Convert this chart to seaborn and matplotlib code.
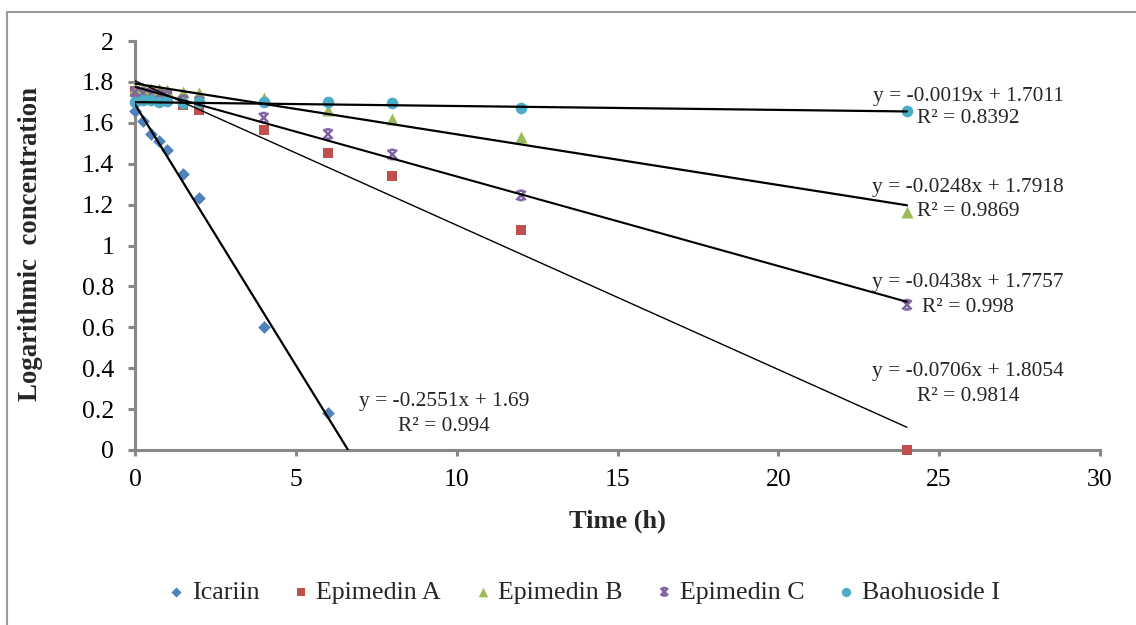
import numpy as np
import pandas as pd
import matplotlib
matplotlib.use("Agg")
import matplotlib.pyplot as plt
from matplotlib.patches import Rectangle
from matplotlib.path import Path
import seaborn as sns

# Sampling times (h)
time_full = [0, 0.25, 0.5, 0.75, 1, 1.5, 2, 4, 6, 8, 12, 24]
time_icariin = [0, 0.25, 0.5, 0.75, 1, 1.5, 2, 4, 6]

# Logarithmic concentration of each compound
icariin = [1.66, 1.61, 1.545, 1.51, 1.465, 1.35, 1.23, 0.60, 0.18]
epimedin_a = [1.755, 1.745, 1.745, 1.74, 1.735, 1.685, 1.665, 1.565, 1.45, 1.34, 1.075, 0.0]
epimedin_b = [1.77, 1.77, 1.765, 1.765, 1.76, 1.75, 1.745, 1.72, 1.665, 1.62, 1.53, 1.165]
epimedin_c = [1.75, 1.745, 1.74, 1.735, 1.73, 1.71, 1.705, 1.625, 1.545, 1.445, 1.245, 0.71]
baohuoside = [1.70, 1.71, 1.71, 1.70, 1.705, 1.695, 1.70, 1.70, 1.70, 1.695, 1.67, 1.66]

names = ["Icariin", "Epimedin A", "Epimedin B", "Epimedin C", "Baohuoside I"]

# Linear trendline parameters and fit quality
slopes = [-0.2551, -0.0706, -0.0248, -0.0438, -0.0019]
intercepts = [1.69, 1.8054, 1.7918, 1.7757, 1.7011]
r_squared = ["0.994", "0.9814", "0.9869", "0.998", "0.8392"]
slope_txt = ["-0.2551", "-0.0706", "-0.0248", "-0.0438", "-0.0019"]
intercept_txt = ["1.69", "1.8054", "1.7918", "1.7757", "1.7011"]

x_ticks = [0, 5, 10, 15, 20, 25, 30]
y_ticks = [0, 0.2, 0.4, 0.6, 0.8, 1, 1.2, 1.4, 1.6, 1.8, 2]
y_tick_labels = ["0", "0.2", "0.4", "0.6", "0.8", "1", "1.2", "1.4", "1.6", "1.8", "2"]

series_x = [time_icariin, time_full, time_full, time_full, time_full]
series_y = [icariin, epimedin_a, epimedin_b, epimedin_c, baohuoside]

# "x" marker with short caps top and bottom
capped_x = Path(
    [(-1, -1), (1, 1), (-1, 1), (1, -1), (-0.55, 1), (0.55, 1), (-0.55, -1), (0.55, -1)],
    [Path.MOVETO, Path.LINETO, Path.MOVETO, Path.LINETO,
     Path.MOVETO, Path.LINETO, Path.MOVETO, Path.LINETO],
)

colors = ["#4F81BD", "#C0504D", "#9BBB59", "#8064A2", "#4BACC6"]
markers = ["D", "s", "^", capped_x, "o"]
sizes = [42, 55, 75, 45, 70]
line_widths = [1.6, 1.0, 1.6, 1.5, 1.6]

# equation label placement (data coords): (x, y of equation line, y of R² line)
label_pos = [(9.6, 0.236, 0.117), (25.9, 0.383, 0.264), (25.9, 1.286, 1.165),
             (25.9, 0.82, 0.696), (25.9, 1.73, 1.62)]

sns.set_style("ticks")
plt.rcParams["font.family"] = ["Liberation Serif", "DejaVu Serif"]

fig = plt.figure(figsize=(11.36, 6.25), dpi=100)
ax = fig.add_axes([135 / 1136, 1 - 450 / 625, 965 / 1136, 409 / 625])

for i, name in enumerate(names):
    df = pd.DataFrame({"Time (h)": series_x[i], "logc": series_y[i]})
    if i == 3:
        sns.scatterplot(data=df, x="Time (h)", y="logc", ax=ax, marker=markers[i],
                        facecolor="none", edgecolor=colors[i], s=sizes[i], linewidth=1.8,
                        label=name, zorder=3, clip_on=False)
    else:
        sns.scatterplot(data=df, x="Time (h)", y="logc", ax=ax, marker=markers[i],
                        color=colors[i], s=sizes[i], linewidth=0,
                        label=name, zorder=3, clip_on=False)

for i in range(len(names)):
    tx = np.array([0.0, 24.0])
    fit = pd.DataFrame({"t": tx, "y": slopes[i] * tx + intercepts[i]})
    sns.lineplot(data=fit, x="t", y="y", ax=ax, color="black",
                 linewidth=line_widths[i], legend=False, zorder=4)
    px, py1, py2 = label_pos[i]
    ax.text(px, py1, f"y = {slope_txt[i]}x + {intercept_txt[i]}", ha="center",
            va="center", fontsize=15.4, zorder=5)
    ax.text(px, py2, f"R² = {r_squared[i]}", ha="center", va="center",
            fontsize=15.4, zorder=5)

ax.set_xlim(0, 30)
ax.set_ylim(0, 2)
ax.set_xticks(x_ticks)
ax.set_xticklabels([str(t) for t in x_ticks])
ax.set_yticks(y_ticks)
ax.set_yticklabels(y_tick_labels)

axis_gray = "#878787"
for side in ["top", "right"]:
    ax.spines[side].set_visible(False)
for side in ["left", "bottom"]:
    ax.spines[side].set_color(axis_gray)
    ax.spines[side].set_linewidth(2.2)
ax.tick_params(axis="both", direction="out", color=axis_gray, width=2.2,
               labelsize=18.5, labelcolor="black")
ax.tick_params(axis="y", length=5, pad=10)
ax.tick_params(axis="x", length=4.5, pad=9)

ax.set_xlabel("Time (h)", fontsize=19, fontweight="bold")
ax.set_ylabel("Logarithmic  concentration", fontsize=19.3, fontweight="bold")
ax.xaxis.label.set_va("center")
ax.yaxis.label.set_va("center")
ax.xaxis.set_label_coords(0.5, (450 - 521) / 409)
ax.yaxis.set_label_coords((31 - 135) / 965, 0.5 + 1.5 / 409)

handles, labels = ax.get_legend_handles_labels()
ax.get_legend().remove()
fig.legend(handles, labels, loc="center", bbox_to_anchor=(584 / 1136, 1 - 592 / 625),
           ncol=5, frameon=False, fontsize=18.7, handlelength=0.6,
           handletextpad=0.3, columnspacing=1.3, markerscale=0.8)

# outer chart frame
fig.patches.append(Rectangle((7 / 1136, -0.2), 1.5, 1 - 12 / 625 + 0.2,
                             transform=fig.transFigure, fill=False,
                             edgecolor="#9A9A9A", linewidth=1.5))

fig.savefig("out.png", dpi=100)
